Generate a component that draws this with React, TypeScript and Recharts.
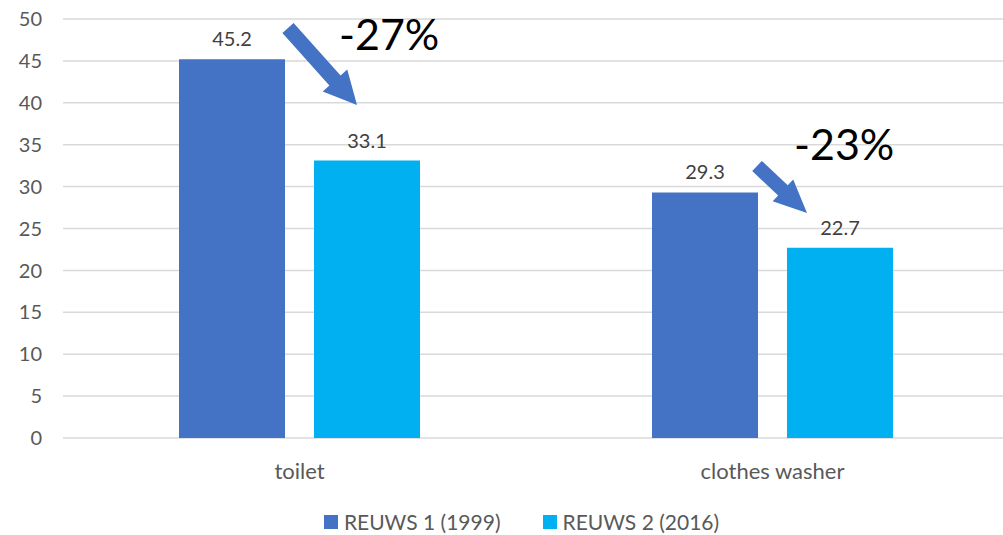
import { BarChart, Bar, XAxis, YAxis, CartesianGrid, Legend, LabelList } from "recharts";

const categories = ["toilet", "clothes washer"];
const reuws1 = [45.2, 29.3];
const reuws2 = [33.1, 22.7];
const yTicks = [0, 5, 10, 15, 20, 25, 30, 35, 40, 45, 50];
const seriesNames = ["REUWS 1 (1999)", "REUWS 2 (2016)"];
const changeLabels = ["-27%", "-23%"];

const colors = ["#4472C4", "#00B0F0"];
const font = "Lato, 'Open Sans', sans-serif";

const data = categories.map((name, i) => ({ name, r1: reuws1[i], r2: reuws2[i] }));

// block arrow polygon from tail center to tip
function arrowPoints(x1: number, y1: number, x2: number, y2: number, shaft: number, headW: number, headL: number) {
  const dx = x2 - x1;
  const dy = y2 - y1;
  const len = Math.sqrt(dx * dx + dy * dy);
  const ux = dx / len;
  const uy = dy / len;
  const px = -uy;
  const py = ux;
  const bx = x2 - ux * headL;
  const by = y2 - uy * headL;
  const pts = [
    [x1 + px * shaft / 2, y1 + py * shaft / 2],
    [bx + px * shaft / 2, by + py * shaft / 2],
    [bx + px * headW / 2, by + py * headW / 2],
    [x2, y2],
    [bx - px * headW / 2, by - py * headW / 2],
    [bx - px * shaft / 2, by - py * shaft / 2],
    [x1 - px * shaft / 2, y1 - py * shaft / 2],
  ];
  return pts.map((p) => p.join(",")).join(" ");
}

function LegendContent() {
  return (
    <div style={{ display: "flex", justifyContent: "center", gap: 42, fontFamily: font, fontSize: 21, color: "#595959", paddingTop: 11, marginLeft: 34 }}>
      {seriesNames.map((n, i) => (
        <div key={n} style={{ display: "flex", alignItems: "center" }}>
          <span style={{ display: "inline-block", width: 14, height: 14, background: colors[i], marginRight: 6 }} />
          {n}
        </div>
      ))}
    </div>
  );
}

export default function App() {
  return (
    <div style={{ position: "absolute", left: 0, top: 0, width: 1003, height: 535, overflow: "hidden", background: "#fff" }}>
      <BarChart width={1009} height={535} data={data} margin={{ top: 19, right: 0, left: 0, bottom: 0 }} barSize={106} barGap={29}>
        <CartesianGrid vertical={false} stroke="#d9d9d9" strokeWidth={1.5} />
        <XAxis
          dataKey="name"
          axisLine={false}
          tickLine={false}
          tick={{ fontSize: 22, fill: "#595959", fontFamily: font }}
          tickMargin={19}
          height={60}
        />
        <YAxis
          domain={[0, 50]}
          ticks={yTicks}
          axisLine={false}
          tickLine={false}
          width={63}
          tickMargin={15}
          tick={{ fontSize: 20, fill: "#595959", fontFamily: font }}
        />
        <Legend content={<LegendContent />} verticalAlign="bottom" height={37} />
        <Bar dataKey="r1" fill={colors[0]} isAnimationActive={false}>
          <LabelList dataKey="r1" position="top" offset={13} style={{ fontSize: 20, fill: "#404040", fontFamily: font }} />
        </Bar>
        <Bar dataKey="r2" fill={colors[1]} isAnimationActive={false}>
          <LabelList dataKey="r2" position="top" offset={13} style={{ fontSize: 20, fill: "#404040", fontFamily: font }} />
        </Bar>
      </BarChart>
      <svg width={1003} height={535} style={{ position: "absolute", left: 0, top: 0, pointerEvents: "none" }}>
        <polygon points={arrowPoints(288, 28, 357, 105, 15, 33, 33)} fill={colors[0]} />
        <polygon points={arrowPoints(757, 166, 807, 213, 14, 30, 33)} fill={colors[0]} />
        <text x={339} y={50} fontSize={43} fontFamily={font} fill="#000">{changeLabels[0]}</text>
        <text x={794} y={160} fontSize={43} fontFamily={font} fill="#000">{changeLabels[1]}</text>
      </svg>
    </div>
  );
}
